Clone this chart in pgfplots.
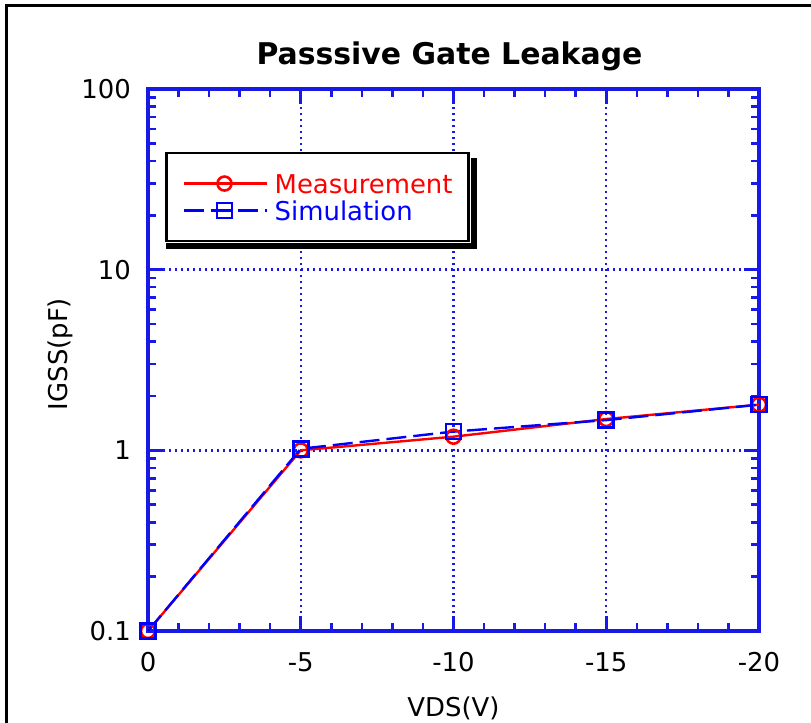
\documentclass[border=0pt]{standalone}
\usepackage{fontspec}
\setmainfont{DejaVu Sans}
\usepackage{pgfplots}
\pgfplotsset{compat=1.18}
\definecolor{axblue}{RGB}{25,25,230}
\definecolor{mred}{RGB}{255,0,0}
\definecolor{sblue}{RGB}{0,0,255}
\begin{document}
\begin{tikzpicture}[x=1bp,y=1bp]
\useasboundingbox (0,0) rectangle (811,723);
\draw[line width=3bp] (6,-20) -- (6,717) -- (830,717);
\begin{axis}[
  at={(148bp,92bp)}, anchor=south west,
  scale only axis, width=611bp, height=542bp,
  x dir=reverse, xmin=-20, xmax=0,
  ymode=log, ymin=0.1, ymax=100,
  xtick={0,-5,-10,-15,-20}, xticklabels={0,-5,-10,-15,-20},
  minor x tick num=4,
  ytick={0.1,1,10,100}, yticklabels={0.1,1,10,100},
  axis line style={axblue, line width=3.2bp},
  every tick/.style={axblue, line width=2.6bp},
  major tick length=15bp, minor tick length=8bp,
  tick align=inside,
  grid=major,
  major grid style={axblue, line width=2.4bp, dash pattern=on 2.4bp off 3.6bp},
  ticklabel style={font=\fontsize{26}{28}\selectfont, text=black},
  yticklabel style={inner sep=0bp, xshift=-17bp},
  xticklabel style={inner sep=0bp, yshift=-21bp},
  xlabel={VDS(V)}, ylabel={IGSS(pF)},
  label style={font=\fontsize{26}{28}\selectfont, text=black},
  xlabel style={at={(axis description cs:0.5,-0.142)}, anchor=center},
  ylabel style={at={(axis description cs:-0.144,0.511)}, anchor=center},
  title={Passsive Gate Leakage},
  title style={font=\fontsize{30}{32}\selectfont\bfseries, at={(axis description cs:0.5,1)}, anchor=center, yshift=27bp, xshift=-4bp},
  clip=false,
  legend cell align=left,
  legend style={at={(axis description cs:0.028,0.884)}, anchor=north west,
    name=leg,
    draw=black, line width=2.4bp, fill=white,
    font=\fontsize{26}{28}\selectfont,
    inner xsep=16bp, inner ysep=17bp,
    nodes={inner sep=0bp, text height=23bp, text depth=4bp},
    column sep=7bp},
  legend image code/.code={\draw[#1, mark repeat=2, mark phase=2] plot coordinates {(0bp,0bp)(41bp,0bp)(83bp,0bp)};},
]
\addplot[mred, line width=2.4bp, mark=o, mark size=7bp, mark options={solid, line width=2.6bp}]
  coordinates {(0,0.1) (-5,1.0) (-10,1.19) (-15,1.49) (-20,1.79)};
\addlegendentry{\textcolor{mred}{Measurement}}
\addplot[sblue, line width=2.4bp, dash pattern=on 20bp off 7bp, mark=square, mark size=7.5bp, mark options={solid, line width=2.6bp}]
  coordinates {(0,0.1) (-5,1.02) (-10,1.27) (-15,1.47) (-20,1.79)};
\addlegendentry{\textcolor{sblue}{Simulation}}
\end{axis}
\fill[black] ([xshift=1bp,yshift=-7bp]leg.south west) rectangle ([xshift=7bp,yshift=-1bp]leg.south east);
\fill[black] ([xshift=1bp,yshift=-7bp]leg.south east) rectangle ([xshift=7bp,yshift=-6bp]leg.north east);
\end{tikzpicture}
\end{document}
